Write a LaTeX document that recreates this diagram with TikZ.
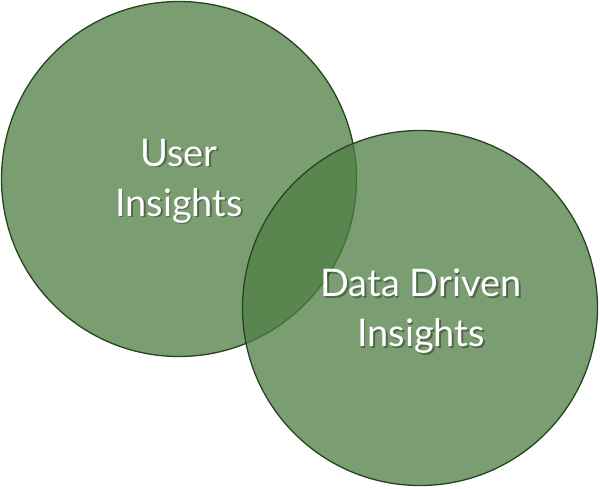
\documentclass[tikz,border=0pt]{standalone}
\usepackage{fontspec}
\setmainfont{Lato}
\usetikzlibrary{positioning}
\definecolor{venngreen}{RGB}{78,126,67}
\definecolor{venndark}{RGB}{38,68,30}

\begin{document}
\begin{tikzpicture}[x=1pt, y=-1pt,
    setcirc/.style={draw=venndark, line width=1.3pt, circle,
                    minimum size=355pt, inner sep=0pt,
                    fill=venngreen, fill opacity=0.75},
    setlbl/.style={font=\fontsize{38}{50}\selectfont, color=white,
                   align=center},
    shadowlbl/.style={setlbl, color=black, opacity=0.35}
  ]
    \useasboundingbox (0,0) rectangle (600,488);

    % Mengen
    \node[setcirc] (user) at (179,179) {};
    \node[setcirc] (data) at (420,308) {};

    % Beschriftungen mit Schatten
    \node[shadowlbl] at ([shift={(1.8pt,-3.8pt)}]user.center) {User\\Insights};
    \node[setlbl]    (userlbl) at ([yshift=-2pt]user.center) {User\\Insights};
    \node[shadowlbl] at ([shift={(2.8pt,-4.8pt)}]data.center) {Data Driven\\Insights};
    \node[setlbl]    (datalbl) at ([shift={(1pt,-3pt)}]data.center) {Data Driven\\Insights};
\end{tikzpicture}
\end{document}
